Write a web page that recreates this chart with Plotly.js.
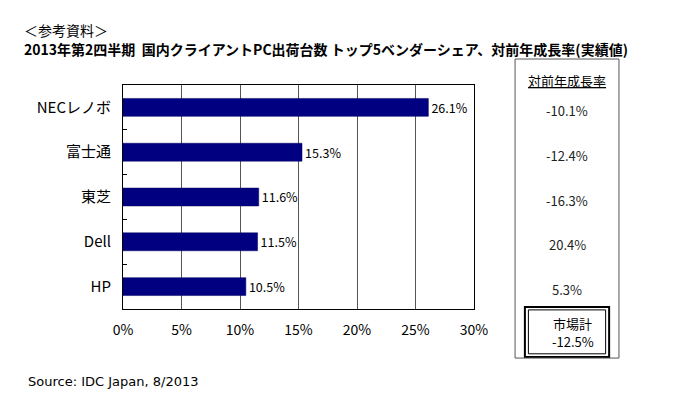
<!DOCTYPE html>
<html><head><meta charset="utf-8">
<script src="https://cdn.plot.ly/plotly-3.0.1.min.js"></script>
<style>html,body{margin:0;padding:0;background:#fff;}#chart{width:696px;height:399px;}</style>
</head><body><div id="chart"></div>
<script>
const vendors = ["NECレノボ", "富士通", "東芝", "Dell", "HP"];
const shares = [26.1, 15.3, 11.6, 11.5, 10.5];
const growth = ["-10.1%", "-12.4%", "-16.3%", "20.4%", "5.3%"];
const marketLabel = "市場計";
const marketGrowth = "-12.5%";
const xTicks = [0, 5, 10, 15, 20, 25, 30];
const xTickText = xTicks.map(v => v + "%");
const titleLine1 = "＜参考資料＞";
const titleLine2 = "2013年第2四半期  国内クライアントPC出荷台数 トップ5ベンダーシェア、対前年成長率(実績値)";

const JP = '"Noto Sans CJK JP", "Noto Sans", sans-serif';

const trace = {
  type: "bar", orientation: "h",
  y: vendors, x: shares,
  marker: {color: "#000080", line: {color: "#000060", width: 0.5}},
  text: shares.map(v => v.toFixed(1) + "%"),
  textposition: "outside", cliponaxis: false,
  textfont: {family: JP, size: 14, color: "#000"},
  hoverinfo: "none"
};
const tickTrace = {type: "scatter", x: [0], y: [0], yaxis: "y2", mode: "markers",
  marker: {opacity: 0}, hoverinfo: "none", showlegend: false};

const annotations = [];
annotations.push({xref: "paper", yref: "paper", x: -0.2877, y: 1.2455, text: titleLine1,
  showarrow: false, font: {family: JP, size: 14, color: "#000"}, xanchor: "left", yanchor: "middle"});
annotations.push({xref: "paper", yref: "paper", x: -0.2877, y: 1.161, text: "<b>" + titleLine2 + "</b>",
  showarrow: false, font: {family: JP, size: 14, color: "#000"}, xanchor: "left", yanchor: "middle"});
annotations.push({xref: "paper", yref: "paper", x: 1.265, y: 1.022, text: "<u>対前年成長率</u>",
  showarrow: false, font: {family: JP, size: 13, color: "#000"}, xanchor: "center", yanchor: "middle"});
vendors.forEach((v, i) => annotations.push({xref: "paper", yref: "y", x: 1.265, y: v, yshift: -3,
  text: growth[i], showarrow: false, font: {family: JP, size: 13, color: "#222"}, xanchor: "center", yanchor: "middle"}));
annotations.push({xref: "paper", yref: "paper", x: 1.282, y: -0.0625, text: marketLabel,
  showarrow: false, font: {family: JP, size: 13, color: "#000"}, xanchor: "center", yanchor: "middle"});
annotations.push({xref: "paper", yref: "paper", x: 1.282, y: -0.143, text: marketGrowth,
  showarrow: false, font: {family: JP, size: 13, color: "#000"}, xanchor: "center", yanchor: "middle"});
annotations.push({xref: "paper", yref: "paper", x: -0.276, y: -0.322, text: "Source: IDC Japan, 8/2013",
  showarrow: false, font: {family: '"DejaVu Sans", Verdana, sans-serif', size: 13, color: "#000"}, xanchor: "left", yanchor: "middle"});

const shapes = [
  {type: "rect", xref: "paper", yref: "paper", x0: 1.117, x1: 1.413, y0: -0.219, y1: 1.116, line: {color: "#555", width: 1}},
  {type: "rect", xref: "paper", yref: "paper", x0: 1.145, x1: 1.385, y0: -0.214, y1: 0.009, line: {color: "#000", width: 2}, fillcolor: "#fff", layer: "below"},
  {type: "rect", xref: "paper", yref: "paper", x0: 1.155, x1: 1.375, y0: -0.2, y1: -0.004, line: {color: "#000", width: 1}}
];

const layout = {
  width: 696, height: 399,
  margin: {l: 123, r: 222, t: 85, b: 90},
  paper_bgcolor: "#fff", plot_bgcolor: "#fff",
  showlegend: false,
  xaxis: {range: [0, 30], tickvals: xTicks, ticktext: xTickText, showgrid: true, gridcolor: "#555", gridwidth: 1,
    zeroline: false, showline: true, linecolor: "#000", linewidth: 1, mirror: true, ticks: "",
    ticklabelstandoff: 8, tickfont: {family: JP, size: 14, color: "#000"}, fixedrange: true},
  yaxis: {type: "category", autorange: "reversed", categoryorder: "array", categoryarray: vendors,
    showline: true, linecolor: "#000", linewidth: 1, mirror: true, ticks: "", showgrid: false,
    ticklabelstandoff: 8, tickfont: {family: JP, size: 15, color: "#000"}},
  yaxis2: {overlaying: "y", range: [4.5, -0.5], tickvals: [0.5, 1.5, 2.5, 3.5], ticks: "inside", ticklen: 4,
    tickcolor: "#000", showticklabels: false, showgrid: false, zeroline: false, side: "left", showline: false},
  bargap: 0.6,
  annotations: annotations,
  shapes: shapes
};
Plotly.newPlot("chart", [trace, tickTrace], layout, {displayModeBar: false, staticPlot: true});
</script></body></html>
